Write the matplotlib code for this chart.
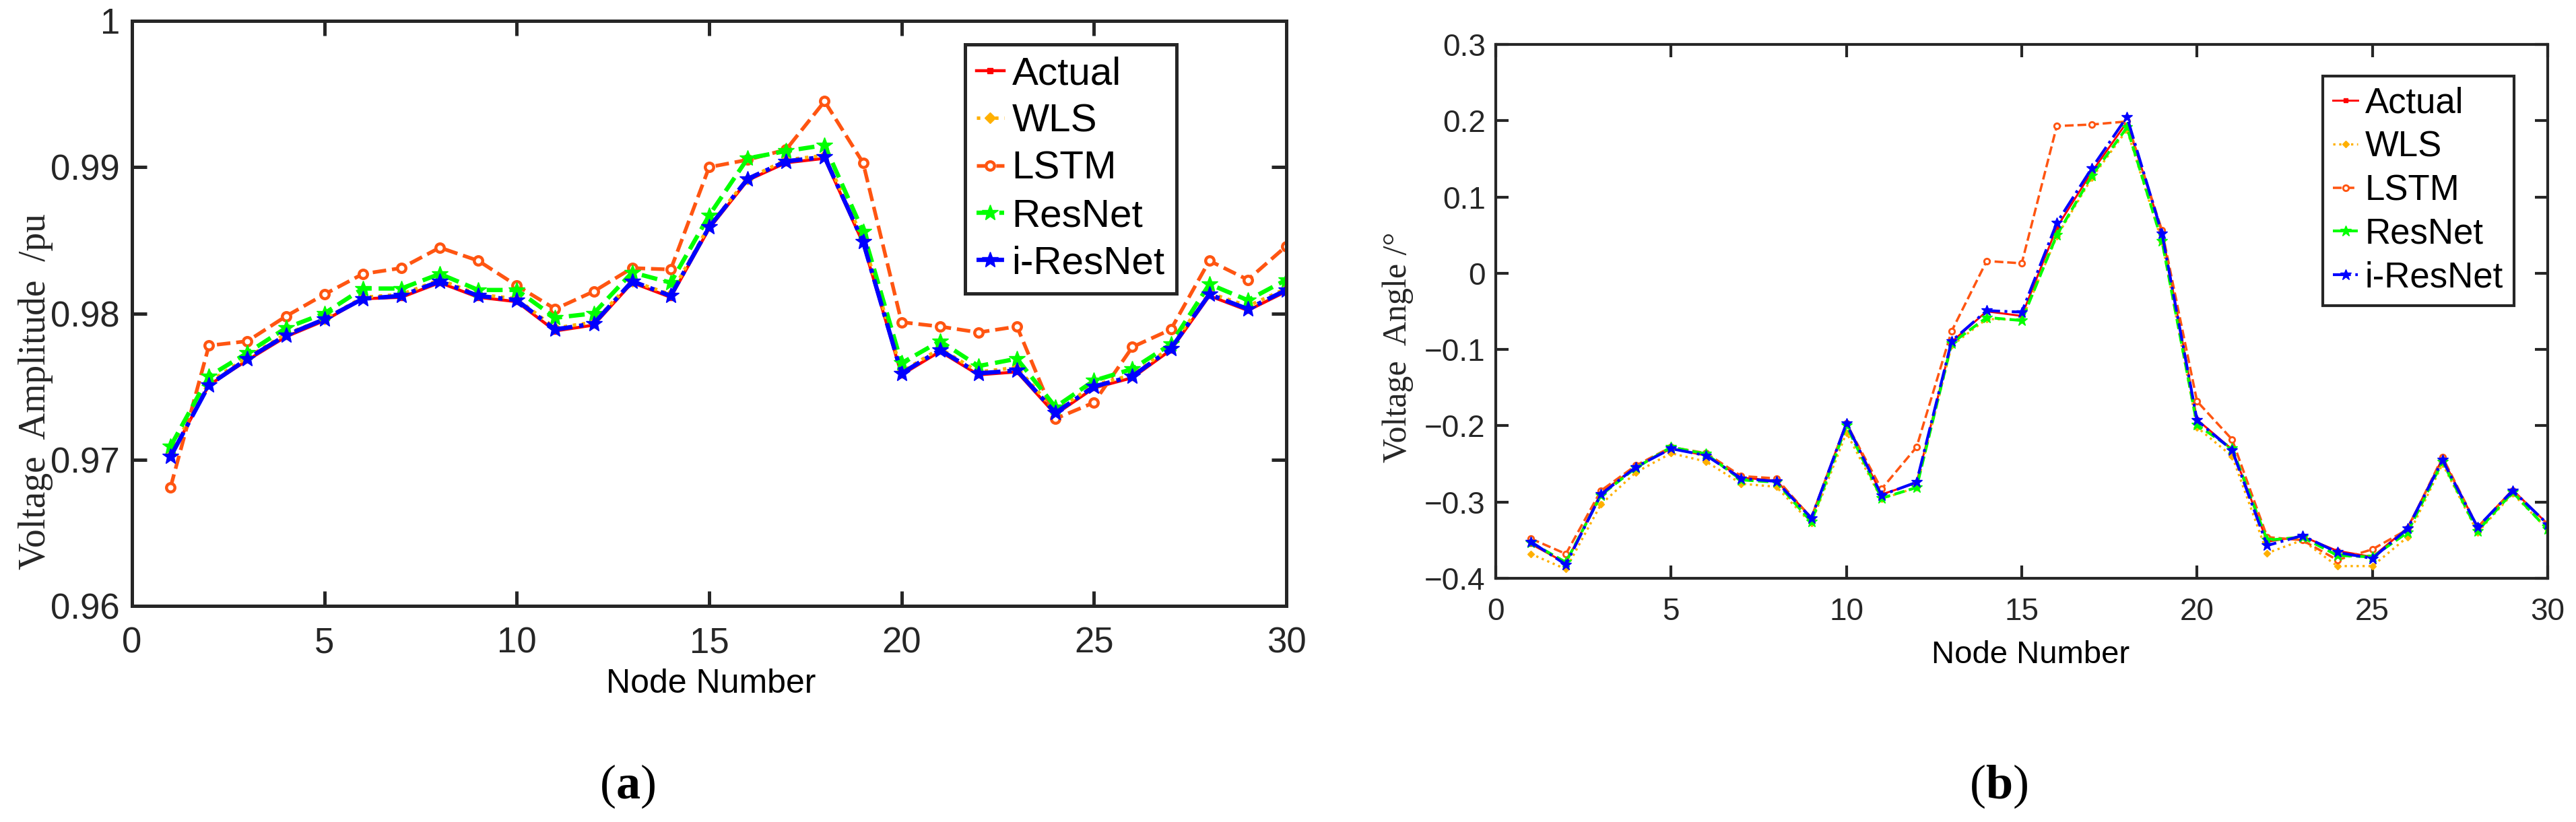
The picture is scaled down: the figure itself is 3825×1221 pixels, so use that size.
import matplotlib
matplotlib.use("Agg")
import matplotlib.pyplot as plt
import numpy as np

plt.rcParams["mathtext.fontset"] = "custom"
plt.rcParams["mathtext.rm"] = "Liberation Serif"
plt.rcParams["mathtext.bf"] = "Liberation Serif:bold"

W, H = 3825, 1221

nodes = list(range(1, 31))
labels = ["Actual", "WLS", "LSTM", "ResNet", "i-ResNet"]

# (a) voltage amplitude, pu
amp_actual = [0.9702, 0.9751, 0.9768, 0.9784, 0.9795, 0.9810, 0.9811, 0.9821, 0.9811, 0.9808,
              0.9788, 0.9792, 0.9821, 0.9811, 0.9858, 0.9891, 0.9903, 0.9906, 0.9848, 0.9758,
              0.9774, 0.9758, 0.9760, 0.9731, 0.9749, 0.9756, 0.9775, 0.9812, 0.9802, 0.9815]
amp_wls = [0.9704, 0.9753, 0.9770, 0.9786, 0.9796, 0.9811, 0.9813, 0.9823, 0.9813, 0.9810,
           0.9790, 0.9794, 0.9822, 0.9813, 0.9860, 0.9892, 0.9905, 0.9908, 0.9851, 0.9760,
           0.9776, 0.9760, 0.9763, 0.9733, 0.9751, 0.9758, 0.9777, 0.9814, 0.9805, 0.9817]
amp_lstm = [0.9681, 0.9778, 0.9781, 0.9798, 0.9813, 0.9827, 0.9831, 0.9845, 0.9836, 0.9819,
            0.9803, 0.9815, 0.9831, 0.9830, 0.9900, 0.9905, 0.9912, 0.9945, 0.9903, 0.9794,
            0.9791, 0.9787, 0.9791, 0.9728, 0.9739, 0.9777, 0.9789, 0.9836, 0.9823, 0.9846]
amp_resnet = [0.9709, 0.9757, 0.9773, 0.9790, 0.9800, 0.9817, 0.9817, 0.9827, 0.9816, 0.9816,
              0.9797, 0.9800, 0.9828, 0.9821, 0.9867, 0.9906, 0.9911, 0.9915, 0.9856, 0.9766,
              0.9781, 0.9764, 0.9769, 0.9736, 0.9754, 0.9762, 0.9779, 0.9820, 0.9809, 0.9823]
amp_iresnet = [0.9702, 0.9751, 0.9769, 0.9785, 0.9796, 0.9810, 0.9812, 0.9822, 0.9812, 0.9809,
               0.9789, 0.9793, 0.9822, 0.9812, 0.9859, 0.9892, 0.9904, 0.9907, 0.9849, 0.9759,
               0.9775, 0.9759, 0.9761, 0.9732, 0.9750, 0.9757, 0.9776, 0.9813, 0.9803, 0.9816]

# (b) voltage angle, degrees
ang_actual = [-0.355, -0.380, -0.288, -0.254, -0.230, -0.239, -0.268, -0.272, -0.320, -0.196,
              -0.290, -0.275, -0.090, -0.050, -0.056, 0.060, 0.133, 0.198, 0.054, -0.192,
              -0.231, -0.352, -0.345, -0.364, -0.372, -0.334, -0.243, -0.333, -0.284, -0.329]
ang_wls = [-0.368, -0.388, -0.303, -0.261, -0.236, -0.247, -0.276, -0.280, -0.328, -0.209,
           -0.296, -0.281, -0.095, -0.060, -0.061, 0.048, 0.125, 0.188, 0.041, -0.202,
           -0.240, -0.367, -0.350, -0.384, -0.384, -0.346, -0.250, -0.340, -0.289, -0.336]
ang_lstm = [-0.348, -0.368, -0.285, -0.252, -0.228, -0.236, -0.266, -0.269, -0.321, -0.197,
            -0.283, -0.228, -0.076, 0.016, 0.013, 0.193, 0.195, 0.199, 0.056, -0.168,
            -0.218, -0.346, -0.350, -0.376, -0.362, -0.336, -0.241, -0.333, -0.285, -0.329]
ang_resnet = [-0.353, -0.379, -0.291, -0.255, -0.228, -0.237, -0.271, -0.274, -0.326, -0.200,
              -0.295, -0.281, -0.092, -0.058, -0.062, 0.050, 0.128, 0.191, 0.042, -0.199,
              -0.230, -0.350, -0.346, -0.370, -0.372, -0.340, -0.247, -0.338, -0.287, -0.336]
ang_iresnet = [-0.352, -0.382, -0.290, -0.254, -0.230, -0.239, -0.269, -0.273, -0.321, -0.197,
               -0.291, -0.274, -0.089, -0.049, -0.051, 0.066, 0.138, 0.205, 0.052, -0.193,
               -0.232, -0.357, -0.344, -0.366, -0.374, -0.335, -0.245, -0.333, -0.285, -0.329]

x_ticks = [0, 5, 10, 15, 20, 25, 30]
amp_ticks = [0.96, 0.97, 0.98, 0.99, 1.0]
amp_ticklabels = ["0.96", "0.97", "0.98", "0.99", "1"]
ang_ticks = [-0.4, -0.3, -0.2, -0.1, 0.0, 0.1, 0.2, 0.3]
ang_ticklabels = ["\u22120.4", "\u22120.3", "\u22120.2", "\u22120.1", "0", "0.1", "0.2", "0.3"]

colors = ["#ff0000", "#ffb000", "#ff5511", "#00ff00", "#0000ff"]
dark = "#262626"
sans = "Liberation Sans"
serif = "Liberation Serif"

fig = plt.figure(figsize=(W / 100, H / 100), dpi=100)


def px_axes(l, t, r, b):
    return fig.add_axes([l / W, 1 - b / H, (r - l) / W, (b - t) / H])


def draw(ax, series, scale):
    lw, ms = (4.6, 18) if scale == "a" else (3.0, 12)
    styles = [
        dict(ls="-", marker="s", ms=ms * 0.35, lw=lw * 0.7),
        dict(ls=":", marker="D", ms=ms * 0.45, lw=lw * 0.8),
        dict(ls="--", marker="o", ms=ms * 0.5, lw=lw * 0.85, mfc="white", mew=lw * 0.7),
        dict(ls="--", marker="*", ms=ms, lw=lw),
        dict(ls="-.", marker="*", ms=ms, lw=lw),
    ]
    for y, lab, c, st in zip(series, labels, colors, styles):
        ax.plot(nodes, y, color=c, label=lab, **st)


def style(ax, yticks, yticklabels, ylim, fs, spine_w, tick_len, xpad, ypad):
    ax.set_xlim(0, 30)
    ax.set_ylim(*ylim)
    ax.set_xticks(x_ticks)
    ax.set_xticklabels([str(t) for t in x_ticks], family=sans, fontsize=fs, color=dark)
    ax.set_yticks(yticks)
    ax.set_yticklabels(yticklabels, family=sans, fontsize=fs, color=dark)
    ax.tick_params(direction="in", top=True, right=True, length=tick_len,
                   width=spine_w, color=dark)
    ax.tick_params(axis="x", pad=xpad)
    ax.tick_params(axis="y", pad=ypad)
    for s in ax.spines.values():
        s.set_linewidth(spine_w)
        s.set_color(dark)


# panel (a)
ax1 = px_axes(196, 31, 1910, 900)
draw(ax1, [amp_actual, amp_wls, amp_lstm, amp_resnet, amp_iresnet], "a")
style(ax1, amp_ticks, amp_ticklabels, (0.96, 1.0), 38, 3.6, 16, 22, 13)
leg1 = ax1.legend(loc="upper right", bbox_to_anchor=(0.905, 0.960), borderaxespad=0,
                  prop={"family": sans, "size": 42}, handlelength=0.7, handletextpad=0.2,
                  labelspacing=0.28, borderpad=0.3, fancybox=False, framealpha=1,
                  edgecolor=dark)
leg1.get_frame().set_linewidth(3.6)

# panel (b)
ax2 = px_axes(2221, 66, 3783, 859)
draw(ax2, [ang_actual, ang_wls, ang_lstm, ang_resnet, ang_iresnet], "b")
style(ax2, ang_ticks, ang_ticklabels, (-0.4, 0.3), 33, 3.0, 14, 20, 11)
leg2 = ax2.legend(loc="upper right", bbox_to_anchor=(0.968, 0.941), borderaxespad=0,
                  prop={"family": sans, "size": 38}, handlelength=0.7, handletextpad=0.2,
                  labelspacing=0.28, borderpad=0.3, fancybox=False, framealpha=1,
                  edgecolor=dark)
leg2.get_frame().set_linewidth(3.0)

# axis titles and panel labels
fig.text(53 / W, 1 - 582 / H, "Voltage  Amplitude  /pu", rotation=90, ha="center",
         va="center", family=serif, fontsize=40, color=dark)
fig.text(1056 / W, 1 - 1016 / H, "Node Number", ha="center", va="center",
         family=sans, fontsize=36, color="black")
fig.text(2076 / W, 1 - 516 / H, "Voltage  Angle /\u00b0", rotation=90, ha="center",
         va="center", family=serif, fontsize=36, color=dark)
fig.text(3015 / W, 1 - 973 / H, "Node Number", ha="center", va="center",
         family=sans, fontsize=34, color="black")
fig.text(932 / W, 1 - 1168 / H, r"$\mathrm{(}\mathbf{a}\mathrm{)}$", ha="center",
         va="center", fontsize=52)
fig.text(2968 / W, 1 - 1168 / H, r"$\mathrm{(}\mathbf{b}\mathrm{)}$", ha="center",
         va="center", fontsize=52)

fig.savefig("out.png", dpi=100, facecolor="white")
